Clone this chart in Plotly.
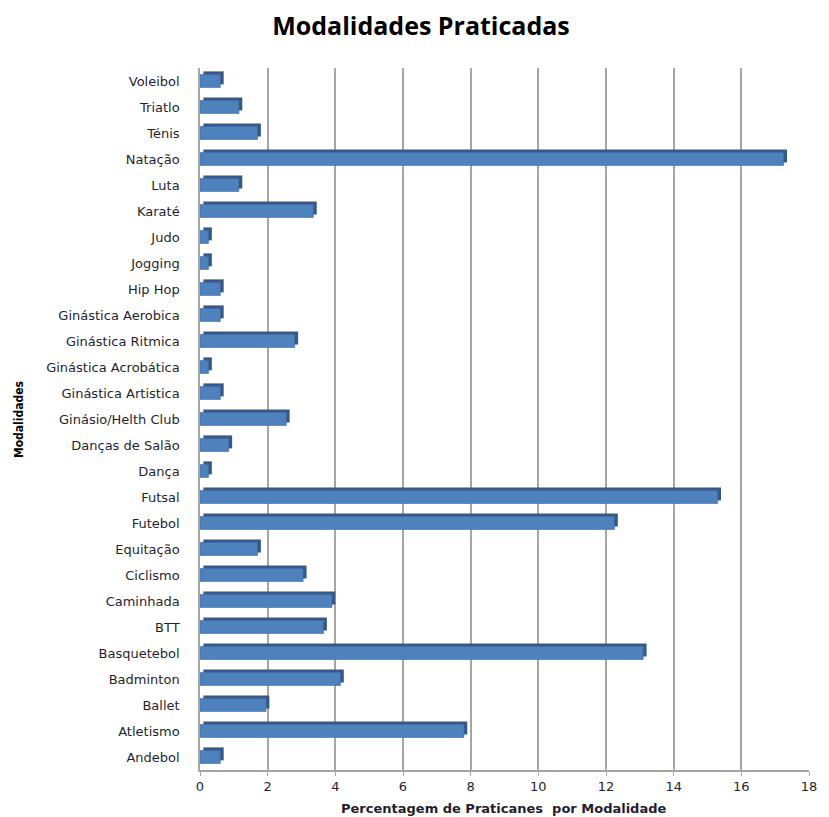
import plotly.graph_objects as go

categories = [
    "Andebol", "Atletismo", "Ballet", "Badminton", "Basquetebol", "BTT",
    "Caminhada", "Ciclismo", "Equitação", "Futebol", "Futsal", "Dança",
    "Danças de Salão", "Ginásio/Helth Club", "Ginástica Artistica",
    "Ginástica Acrobática", "Ginástica Ritmica", "Ginástica Aerobica",
    "Hip Hop", "Jogging", "Judo", "Karaté", "Luta", "Natação", "Ténis",
    "Triatlo", "Voleibol",
]
values = [
    0.6, 7.8, 1.95, 4.15, 13.1, 3.65,
    3.9, 3.05, 1.7, 12.25, 15.3, 0.25,
    0.85, 2.55, 0.6,
    0.25, 2.8, 0.6,
    0.6, 0.25, 0.25, 3.35, 1.15, 17.25, 1.7,
    1.15, 0.6,
]
x_ticks = [0, 2, 4, 6, 8, 10, 12, 14, 16, 18]

title_text = "Modalidades Praticadas"
x_title = "Percentagem de Praticanes  por Modalidade"
y_title = "Modalidades"

W, H = 821, 809  # page body has an 8px margin
L, R, T, B = 192, 13, 60, 47
PW, PH = W - L - R, H - T - B

fig = go.Figure()

# darker depth face (top + right edge) to mimic the 3D bar look
fig.add_trace(go.Bar(
    y=categories, x=values, base=0.1, orientation="h",
    width=0.5, offset=-0.13,
    marker=dict(color="#34598A", line=dict(width=0)),
    hoverinfo="skip", showlegend=False,
))
# front face
fig.add_trace(go.Bar(
    y=categories, x=values, orientation="h",
    width=0.5, offset=-0.25,
    marker=dict(color="#4F81BD", line=dict(color="#3C6CA6", width=0.6)),
    showlegend=False,
))

fig.update_layout(
    width=W, height=H,
    margin=dict(l=L, r=R, t=T, b=B),
    paper_bgcolor="white", plot_bgcolor="white",
    barmode="overlay",
    title=dict(
        text=title_text, x=413 / W, xanchor="center", y=1 - 18 / H, yanchor="middle",
        font=dict(family="Open Sans, DejaVu Sans", size=25, color="#000000", weight="bold"),
    ),
    font=dict(family="DejaVu Sans", size=13, color="#1F1F2F"),
)

fig.update_xaxes(
    range=[0, 18], tickvals=x_ticks, ticktext=[str(t) for t in x_ticks],
    showgrid=True, gridcolor="#A6A6A6", gridwidth=1.5,
    showline=True, linecolor="#A6A6A6", linewidth=1.5,
    ticks="outside", ticklen=4, tickcolor="#A6A6A6",
    tickfont=dict(family="DejaVu Sans", size=13, color="#1F1F2F"),
    zeroline=False, fixedrange=True,
)
fig.update_yaxes(
    categoryorder="array", categoryarray=categories,
    range=[-0.5, len(categories) - 0.5],
    showgrid=False, showline=True, linecolor="#A6A6A6", linewidth=1.5,
    ticks="", ticklabelstandoff=16,
    tickfont=dict(family="DejaVu Sans", size=13, color="#1F1F2F"),
    fixedrange=True,
)

fig.add_annotation(
    text=x_title, xref="paper", yref="paper",
    x=(499 - L) / PW, y=-(800 - (H - B)) / PH, xanchor="center", yanchor="middle",
    showarrow=False,
    font=dict(family="DejaVu Sans", size=13, color="#1F1F2F", weight="bold"),
)
fig.add_annotation(
    text=y_title, xref="paper", yref="paper",
    x=-(L - 9) / PW, y=((H - B) - 412) / PH, xanchor="center", yanchor="middle",
    textangle=-90, showarrow=False,
    font=dict(family="Liberation Sans Narrow, DejaVu Sans Condensed", size=12,
              color="#000000", weight="bold"),
)

fig.write_html("out.html")
